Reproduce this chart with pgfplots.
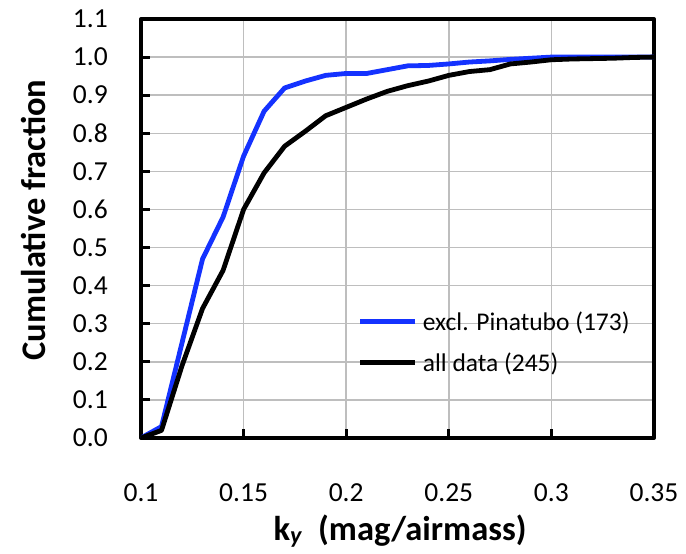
\documentclass[border=0pt]{standalone}
\usepackage{fontspec}
\setmainfont{Carlito}
\usepackage{pgfplots}
\pgfplotsset{compat=1.18}
\definecolor{cblue}{RGB}{20,50,255}
\definecolor{cgrid}{RGB}{190,190,190}
\begin{document}
\begin{tikzpicture}
\begin{axis}[
  name=ax,
  scale only axis,
  width=513pt, height=419pt,
  xmin=0.1, xmax=0.35, ymin=0, ymax=1.1,
  xtick={0.1,0.15,0.2,0.25,0.3,0.35},
  ytick={0,0.1,...,1.1},
  xticklabels={0.1,0.15,0.2,0.25,0.3,0.35},
  yticklabels={0.0,0.1,0.2,0.3,0.4,0.5,0.6,0.7,0.8,0.9,1.0,1.1},
  tick align=inside,
  xtick pos=bottom, ytick pos=left,
  major tick length=9pt,
  every tick/.style={black, line width=3pt},
  grid=major,
  major grid style={cgrid, line width=1.5pt},
  axis line style={line width=4pt, line join=round},
  /pgf/number format/assume math mode=true,
  tick label style={font=\fontsize{27.5}{32}\selectfont, inner sep=0pt},
  yticklabel style={xshift=-33pt},
  xticklabel style={yshift=-45pt},
  xlabel={\textbf{k\textsubscript{\textit{y}}\ \ (mag/airmass)}},
  ylabel={\textbf{Cumulative fraction}},
  label style={font=\fontsize{34.5}{40}\selectfont},
  xlabel style={at={(axis description cs:0.505,0)}, anchor=base, yshift=-102pt},
  ylabel style={at={(axis description cs:-0.2105,0.52)}, anchor=center, rotate=0},
  legend style={draw=none, fill=none, inner sep=0pt, at={(axis cs:0.2057,0.329)}, anchor=north west,
    font=\fontsize{25.5}{30}\selectfont,
    nodes={inner sep=0pt, text height=18pt, text depth=6pt},
    row sep=17pt, column sep=5pt},
  legend cell align=left,
  legend image code/.code={\draw[#1, line width=4.8pt] (0pt,0.35em) -- (55pt,0.35em);},
]
\addplot[cblue, line width=4.8pt, line join=round] coordinates {
(0.10,0) (0.11,0.03) (0.12,0.25) (0.13,0.47) (0.14,0.58) (0.15,0.74)
(0.16,0.858) (0.17,0.919) (0.18,0.937) (0.19,0.952) (0.20,0.957) (0.21,0.957)
(0.22,0.967) (0.23,0.977) (0.24,0.978) (0.25,0.982) (0.26,0.987) (0.27,0.990)
(0.28,0.994) (0.29,0.997) (0.30,1.0) (0.31,1.0) (0.32,1.0) (0.33,1.0) (0.34,1.0) (0.35,1.0)};
\addlegendentry{excl. Pinatubo (173)}
\addplot[black, line width=4.8pt, line join=round] coordinates {
(0.10,0) (0.11,0.02) (0.12,0.19) (0.13,0.34) (0.14,0.44) (0.15,0.60)
(0.16,0.696) (0.17,0.766) (0.18,0.805) (0.19,0.846) (0.20,0.868) (0.21,0.89)
(0.22,0.91) (0.23,0.925) (0.24,0.937) (0.25,0.952) (0.26,0.962) (0.27,0.967)
(0.28,0.982) (0.29,0.987) (0.30,0.993) (0.31,0.995) (0.32,0.996) (0.33,0.997) (0.34,0.999) (0.35,1.0)};
\addlegendentry{all data (245)}
\end{axis}
\pgfresetboundingbox
\path (ax.south west) ++(-141pt,-116pt) rectangle ++(686pt,554pt);
\end{tikzpicture}
\end{document}
